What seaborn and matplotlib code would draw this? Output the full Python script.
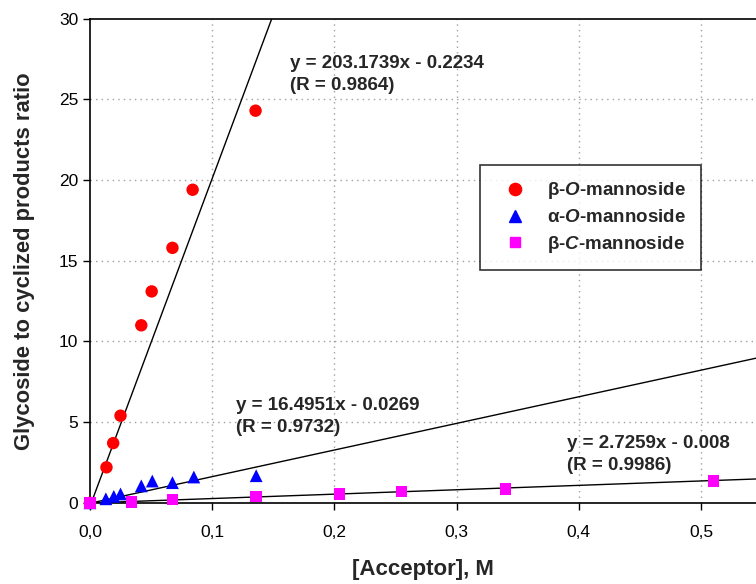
import pandas as pd
import matplotlib
matplotlib.use("Agg")
import matplotlib.pyplot as plt
import seaborn as sns

sns.set_theme(style="white")
plt.rcParams["font.family"] = ["Liberation Sans", "DejaVu Sans"]
plt.rcParams["mathtext.fontset"] = "custom"
plt.rcParams["mathtext.bfit"] = "Liberation Sans:bold:italic"
plt.rcParams["mathtext.bf"] = "Liberation Sans:bold"
plt.rcParams["mathtext.rm"] = "Liberation Sans"

# --- data ---
beta_o_x = [0, 0.0135, 0.019, 0.025, 0.042, 0.0505, 0.0675, 0.084, 0.1355]
beta_o_y = [0, 2.2, 3.7, 5.4, 11.0, 13.1, 15.8, 19.4, 24.3]
alpha_o_x = [0, 0.013, 0.0195, 0.025, 0.042, 0.051, 0.0675, 0.085, 0.136]
alpha_o_y = [0, 0.25, 0.4, 0.55, 1.05, 1.35, 1.25, 1.6, 1.68]
beta_c_x = [0, 0.034, 0.0675, 0.136, 0.204, 0.255, 0.34, 0.51]
beta_c_y = [0, 0.05, 0.2, 0.38, 0.55, 0.7, 0.86, 1.36]

series = ["β-O-mannoside", "α-O-mannoside", "β-C-mannoside"]
legend_labels = [r"β-$\mathbfit{O}$-mannoside", r"α-$\mathbfit{O}$-mannoside", r"β-$\mathbfit{C}$-mannoside"]
colors = ["#FF0000", "#0000FF", "#FF00FF"]
markers = ["o", "^", "s"]
marker_area = [80, 85, 68]

# linear fits as printed on the chart
slopes = [203.1739, 16.4951, 2.7259]
intercepts = [-0.2234, -0.0269, -0.008]
fit_texts = ["y = 203.1739x - 0.2234\n(R = 0.9864)",
             "y = 16.4951x - 0.0269\n(R = 0.9732)",
             "y = 2.7259x - 0.008\n(R = 0.9986)"]

df = pd.concat([
    pd.DataFrame({"x": beta_o_x, "y": beta_o_y, "s": series[0]}),
    pd.DataFrame({"x": alpha_o_x, "y": alpha_o_y, "s": series[1]}),
    pd.DataFrame({"x": beta_c_x, "y": beta_c_y, "s": series[2]}),
])

fig = plt.figure(figsize=(7.56, 5.84), dpi=100)
ax = fig.add_axes([0.119, 0.139, 0.881, 0.829])

# dotted grid
for v in [0.1, 0.2, 0.3, 0.4, 0.5]:
    ax.axvline(v, color="#A0A0A0", lw=1, ls=(0, (1, 3)), zorder=0)
for v in [5, 10, 15, 20, 25]:
    ax.axhline(v, color="#A0A0A0", lw=1, ls=(0, (1, 3)), zorder=0)

# fit lines
xx = [0, 0.6]
for m, b in zip(slopes, intercepts):
    ax.plot(xx, [m * x + b for x in xx], color="black", lw=1, zorder=2)

sns.scatterplot(data=df, x="x", y="y", hue="s", style="s", size="s",
                hue_order=series, style_order=series, size_order=series,
                palette=colors, markers=markers, sizes=dict(zip(series, marker_area)),
                edgecolor="none", ax=ax, zorder=3, legend=False, clip_on=False)

ax.set_xlim(0, 0.545)
ax.set_ylim(0, 30)
ax.set_xticks([0, 0.1, 0.2, 0.3, 0.4, 0.5])
ax.set_xticklabels(["0,0", "0,1", "0,2", "0,3", "0,4", "0,5"])
ax.set_yticks([0, 5, 10, 15, 20, 25, 30])
ax.tick_params(axis="both", direction="out", length=5, width=1, labelsize=12.5,
               bottom=True, left=True, colors="black")
ax.tick_params(axis="x", pad=11)
for sp in ["left", "bottom", "top"]:
    ax.spines[sp].set_color("black")
    ax.spines[sp].set_linewidth(1.2)
ax.spines["right"].set_visible(False)

ax.set_xlabel("[Acceptor], M", fontsize=16, fontweight="bold", labelpad=14)
ax.set_ylabel("Glycoside to cyclized products ratio", fontsize=15.8, fontweight="bold", labelpad=17)

# equation labels
text_pos = [(0.1633, 26.54), (0.1196, 5.36), (0.3907, 2.98)]
for (tx, ty), t in zip(text_pos, fit_texts):
    ax.text(tx, ty, t, fontsize=13.5, fontweight="bold", va="center", ha="left", linespacing=1.4)

# legend
handles = [plt.Line2D([], [], ls="none", marker=mk, color=c, markersize=ms)
           for mk, c, ms in zip(markers, colors, [8.8, 8.8, 7.8])]
leg = ax.legend(handles, legend_labels, loc="upper left", bbox_to_anchor=(0.585, 0.698),
                frameon=True, fancybox=False, edgecolor="black",
                prop={"weight": "bold", "size": 13.5}, handletextpad=0.67, borderpad=0.83,
                borderaxespad=0, labelspacing=0.4, handlelength=2.07)
leg.get_frame().set_linewidth(1.2)

fig.savefig("out.png", dpi=100)
